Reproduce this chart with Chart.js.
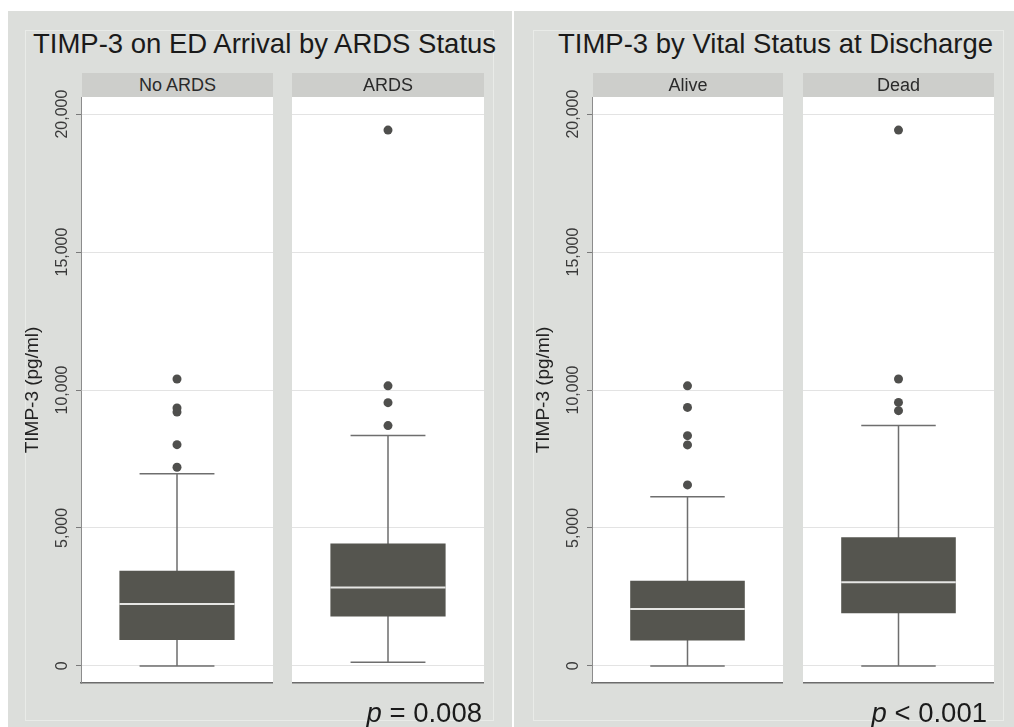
<!DOCTYPE html>
<html>
<head>
<meta charset="utf-8">
<script src="https://cdn.jsdelivr.net/npm/chart.js@4.4.0/dist/chart.umd.min.js"></script>
<style>
  body { margin: 0; background: #fff; font-family: "Liberation Sans", Arial, sans-serif; }
  #page { position: relative; width: 1014px; height: 727px; overflow: hidden; }
  .region { position: absolute; top: 11px; height: 716px; background: #dcdedb; }
  .frame { position: absolute; top: 30px; height: 689px; border: 1px solid #e9ebe8; }
  .title { position: absolute; top: 30px; font-size: 27.5px; line-height: 27.5px; color: #1a1a1a; white-space: nowrap; }
  .strip { position: absolute; top: 73px; height: 24px; line-height: 24px; background: #cdcecb; text-align: center; font-size: 18px; color: #2a2a2a; z-index: 2; }
  .pval { position: absolute; top: 699px; width: 200px; font-size: 27.5px; line-height: 27.5px; color: #1a1a1a; text-align: right; white-space: nowrap; }
  canvas { position: absolute; top: 73px; }
</style>
</head>
<body>
<div id="page">
  <div class="region" style="left:8px; width:504px;"></div>
  <div class="region" style="left:514px; width:500px;"></div>
  <div class="frame" style="left:25px; width:467px;"></div>
  <div class="frame" style="left:533px; width:469px;"></div>

  <div class="title" style="left:33px;">TIMP-3 on ED Arrival by ARDS Status</div>
  <div class="title" style="left:558px;">TIMP-3 by Vital Status at Discharge</div>

  <canvas id="c1" width="265" height="625" style="left:8px;"></canvas>
  <canvas id="c2" width="192" height="625" style="left:292px;"></canvas>
  <canvas id="c3" width="264" height="625" style="left:519px;"></canvas>
  <canvas id="c4" width="191" height="625" style="left:803px;"></canvas>

  <div class="strip" style="left:82px; width:191px;">No ARDS</div>
  <div class="strip" style="left:292px; width:192px;">ARDS</div>
  <div class="strip" style="left:593px; width:190px;">Alive</div>
  <div class="strip" style="left:803px; width:191px;">Dead</div>

  <div class="pval" style="left:282px;"><i>p</i> = 0.008</div>
  <div class="pval" style="left:787px;"><i>p</i> &lt; 0.001</div>
</div>
<script>
const yTicks = [0, 5000, 10000, 15000, 20000];
const yMin = -620, yMax = 20620;

// ARDS status panel
const ardsGroups = ['No ARDS', 'ARDS'];
const ardsLow = [0, 130];
const ardsQ1 = [940, 1790];
const ardsMedian = [2240, 2840];
const ardsQ3 = [3450, 4440];
const ardsHigh = [6960, 8350];
const ardsOutliers = [[7200, 8020, 9200, 9350, 10400], [8710, 9540, 10150, 19420]];

// vital status panel
const vitalGroups = ['Alive', 'Dead'];
const vitalLow = [0, 0];
const vitalQ1 = [920, 1910];
const vitalMedian = [2065, 3030];
const vitalQ3 = [3090, 4660];
const vitalHigh = [6135, 8710];
const vitalOutliers = [[6560, 8010, 8345, 9370, 10150], [9250, 9550, 10400, 19420]];

const family = '"Liberation Sans", Arial, sans-serif';

const boxParts = {
  id: 'boxParts',
  beforeDraw(chart) {
    const a = chart.chartArea;
    chart.ctx.save();
    chart.ctx.fillStyle = '#ffffff';
    chart.ctx.fillRect(a.left, a.top, a.right - a.left, a.bottom - a.top);
    chart.ctx.restore();
  },
  beforeDatasetsDraw(chart, args, opts) {
    const ctx = chart.ctx, xs = chart.scales.x, ys = chart.scales.y;
    const x = xs.getPixelForValue(0);
    const yl = ys.getPixelForValue(opts.low), yh = ys.getPixelForValue(opts.high);
    const cl = xs.getPixelForValue(-0.195), cr = xs.getPixelForValue(0.195);
    ctx.save();
    ctx.strokeStyle = '#6e6e6e';
    ctx.lineWidth = 1.5;
    ctx.beginPath();
    ctx.moveTo(x, yl); ctx.lineTo(x, yh);
    ctx.moveTo(cl, yl); ctx.lineTo(cr, yl);
    ctx.moveTo(cl, yh); ctx.lineTo(cr, yh);
    ctx.stroke();
    ctx.restore();
  },
  afterDatasetsDraw(chart, args, opts) {
    const ctx = chart.ctx, ys = chart.scales.y;
    const el = chart.getDatasetMeta(0).data[0];
    const y = ys.getPixelForValue(opts.median);
    ctx.save();
    ctx.strokeStyle = '#e6e6e4';
    ctx.lineWidth = 2;
    ctx.beginPath();
    ctx.moveTo(el.x - el.width / 2, y); ctx.lineTo(el.x + el.width / 2, y);
    ctx.stroke();
    ctx.restore();
  }
};

function boxChart(id, group, low, q1, median, q3, high, outliers, withAxis) {
  new Chart(document.getElementById(id), {
    type: 'bar',
    data: {
      labels: [group],
      datasets: [
        {
          data: [[q1, q3]],
          backgroundColor: '#55554f',
          barPercentage: 0.6,
          categoryPercentage: 1
        },
        {
          type: 'line',
          data: outliers.map(v => ({ x: group, y: v })),
          showLine: false,
          pointRadius: 4.5,
          pointBackgroundColor: '#4f4f4d',
          pointBorderColor: '#4f4f4d',
          pointBorderWidth: 0
        }
      ]
    },
    options: {
      responsive: false,
      animation: false,
      layout: { autoPadding: false, padding: { top: 24, left: 0, right: 0, bottom: 0 } },
      plugins: {
        legend: { display: false },
        tooltip: { enabled: false },
        boxParts: { low: low, median: median, high: high }
      },
      scales: {
        x: {
          ticks: { display: false },
          grid: { display: false },
          border: { color: '#6c6c6c', width: 1.5 },
          afterFit: s => { s.height = 15; }
        },
        y: {
          min: yMin,
          max: yMax,
          afterBuildTicks: s => { s.ticks = yTicks.map(v => ({ value: v })); },
          grid: { color: '#e3e3e3', lineWidth: 1, drawTicks: withAxis, tickLength: 5, tickColor: '#7a7a7a' },
          border: { display: withAxis, color: '#8c8c8c', width: 1 },
          ticks: {
            display: withAxis,
            minRotation: 90,
            maxRotation: 90,
            crossAlign: 'center',
            padding: -11,
            color: '#3a3a3a',
            font: { size: 16, family: family },
            callback: v => v.toLocaleString('en-US')
          },
          title: {
            display: withAxis,
            text: 'TIMP-3 (pg/ml)',
            color: '#222222',
            font: { size: 19, family: family },
            padding: { top: 13, bottom: 0 }
          },
          afterFit: s => { s.width = withAxis ? 73 : 0; }
        }
      }
    },
    plugins: [boxParts]
  });
}

boxChart('c1', ardsGroups[0], ardsLow[0], ardsQ1[0], ardsMedian[0], ardsQ3[0], ardsHigh[0], ardsOutliers[0], true);
boxChart('c2', ardsGroups[1], ardsLow[1], ardsQ1[1], ardsMedian[1], ardsQ3[1], ardsHigh[1], ardsOutliers[1], false);
boxChart('c3', vitalGroups[0], vitalLow[0], vitalQ1[0], vitalMedian[0], vitalQ3[0], vitalHigh[0], vitalOutliers[0], true);
boxChart('c4', vitalGroups[1], vitalLow[1], vitalQ1[1], vitalMedian[1], vitalQ3[1], vitalHigh[1], vitalOutliers[1], false);
</script>
</body>
</html>
